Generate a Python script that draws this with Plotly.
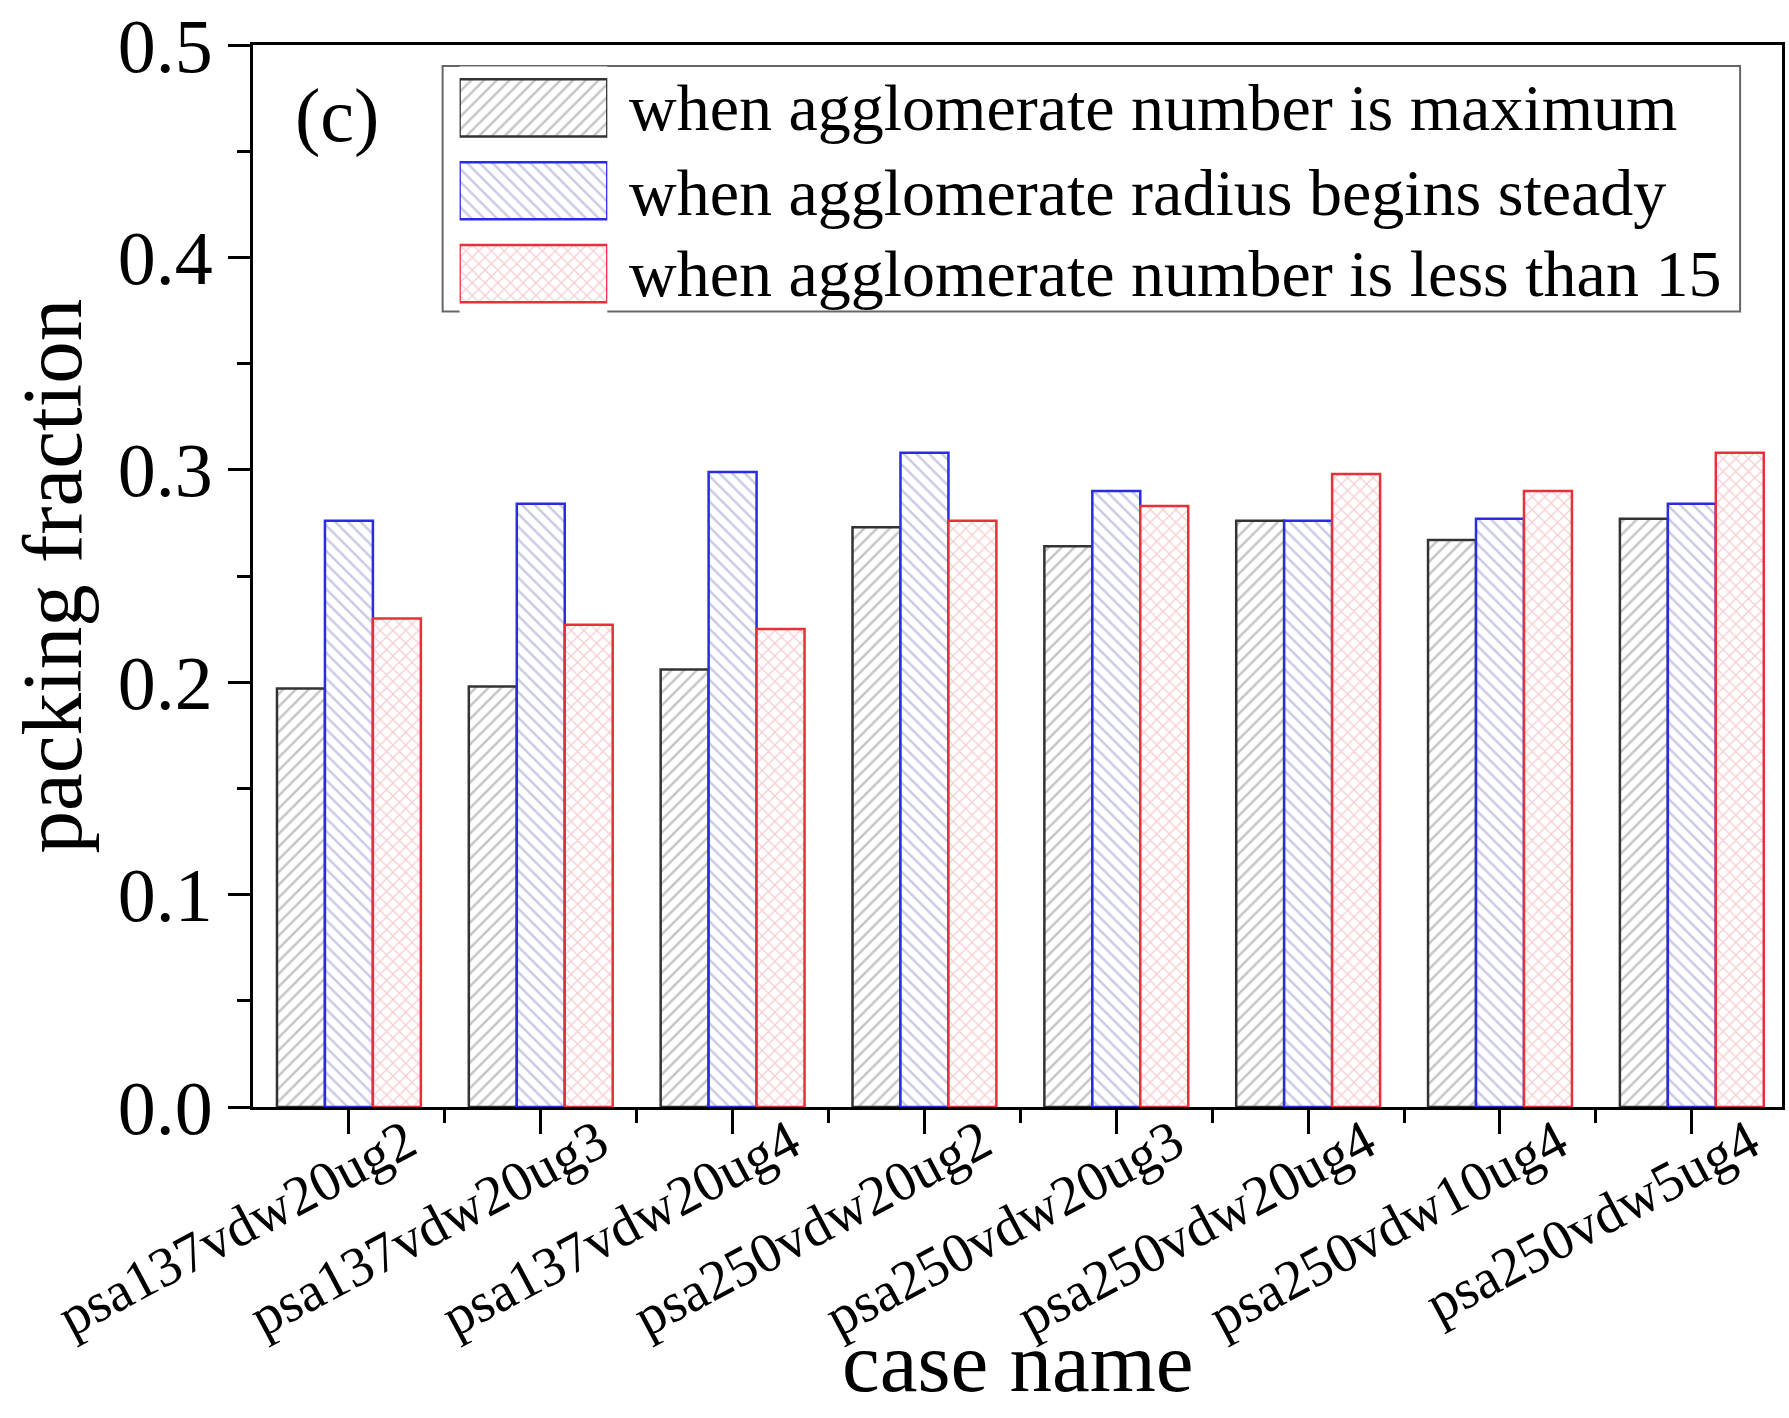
import plotly.graph_objects as go

# Case names along the x axis
categories = [
    "psa137vdw20ug2", "psa137vdw20ug3", "psa137vdw20ug4", "psa250vdw20ug2",
    "psa250vdw20ug3", "psa250vdw20ug4", "psa250vdw10ug4", "psa250vdw5ug4",
]

series_names = [
    "when agglomerate number is maximum",
    "when agglomerate radius begins steady",
    "when agglomerate number is less than 15",
]

# Packing fraction for each case
max_number = [0.197, 0.198, 0.206, 0.273, 0.264, 0.276, 0.267, 0.277]
radius_steady = [0.276, 0.284, 0.299, 0.308, 0.290, 0.276, 0.277, 0.284]
less_than_15 = [0.230, 0.227, 0.225, 0.276, 0.283, 0.298, 0.290, 0.308]

series_values = [max_number, radius_steady, less_than_15]

FONT = "Liberation Serif, Times New Roman, serif"
W, H = 1789, 1418
L, R, T, B = 253, 4, 43, 311

styles = [
    dict(line="#333333", fg="#8a8a8a", shape="/"),
    dict(line="#2b2be6", fg="#9494cc", shape="\\"),
    dict(line="#e8303a", fg="#ee9aa2", shape="x"),
]


def px_to_paper_x(px):
    return (px - L) / (W - L - R)


def px_to_paper_y(py):
    return (H - B - py) / (H - B - T)


def bar_marker(st):
    return dict(
        color="white",
        line=dict(color=st["line"], width=2.5),
        pattern=dict(shape=st["shape"], fgcolor=st["fg"], bgcolor="white",
                     size=9, solidity=0.27, fillmode="overlay"),
    )


fig = go.Figure()
xpos = list(range(len(categories)))

for name, vals, st in zip(series_names, series_values, styles):
    fig.add_trace(go.Bar(x=xpos, y=vals, name=name, showlegend=False,
                         marker=bar_marker(st)))

# Legend swatches drawn as bars on a small overlay axis
for i, (name, st) in enumerate(zip(series_names, styles)):
    fig.add_trace(go.Bar(
        x=[1], y=[i + 1], base=0, orientation="h", width=0.69, offset=-0.345,
        xaxis="x2", yaxis="y2", showlegend=False, hoverinfo="skip",
        marker=bar_marker(st),
    ))

row_centers = [106, 191, 272]
annotations = []
for name, yc in zip(series_names, row_centers):
    annotations.append(dict(
        text=name, x=px_to_paper_x(628), y=px_to_paper_y(yc),
        xref="paper", yref="paper", xanchor="left", yanchor="middle",
        showarrow=False, font=dict(family=FONT, size=66, color="black"),
    ))

annotations += [
    dict(text="(c)", x=px_to_paper_x(337), y=px_to_paper_y(114),
         xref="paper", yref="paper", xanchor="center", yanchor="middle",
         showarrow=False, font=dict(family=FONT, size=76, color="black")),
    dict(text="packing fraction", x=px_to_paper_x(52), y=0.5, textangle=-90,
         xref="paper", yref="paper", xanchor="center", yanchor="middle",
         showarrow=False, font=dict(family=FONT, size=85, color="black")),
    dict(text="case name", x=0.5, y=px_to_paper_y(1362),
         xref="paper", yref="paper", xanchor="center", yanchor="middle",
         showarrow=False, font=dict(family=FONT, size=85, color="black")),
]

fig.update_layout(
    width=W, height=H,
    margin=dict(l=L, r=R, t=T, b=B),
    paper_bgcolor="white", plot_bgcolor="white",
    barmode="group", bargap=0.25, bargroupgap=0,
    font=dict(family=FONT, color="black"),
    showlegend=False,
    annotations=annotations,
    shapes=[dict(
        type="rect", xref="paper", yref="paper",
        x0=px_to_paper_x(443), x1=px_to_paper_x(1743),
        y0=px_to_paper_y(310), y1=px_to_paper_y(64),
        line=dict(color="#666666", width=2), fillcolor="white", layer="below",
    )],
    xaxis=dict(
        range=[-0.5, 7.47], tickmode="array", tickvals=xpos, ticktext=categories,
        tickangle=-28, ticks="outside", ticklen=24, tickwidth=3, tickcolor="black",
        showline=True, linewidth=3, linecolor="black", mirror=True,
        showgrid=False, zeroline=False,
        tickfont=dict(family=FONT, size=56, color="black"),
        ticklabelshift=58, ticklabelstandoff=-46,
        minor=dict(tickmode="array", tickvals=[k + 0.5 for k in xpos[:-1]],
                   ticks="outside", ticklen=13, tickwidth=3, tickcolor="black"),
    ),
    yaxis=dict(
        range=[0, 0.5], tick0=0, dtick=0.1, tickformat=".1f",
        ticks="outside", ticklen=22, tickwidth=3, tickcolor="black",
        showline=True, linewidth=3, linecolor="black", mirror=True,
        showgrid=False, zeroline=False,
        tickfont=dict(family=FONT, size=76, color="black"),
        minor=dict(dtick=0.05, ticks="outside", ticklen=13, tickwidth=3,
                   tickcolor="black"),
    ),
    xaxis2=dict(domain=[px_to_paper_x(460), px_to_paper_x(608)], range=[0, 1],
                anchor="y2", visible=False, fixedrange=True),
    yaxis2=dict(domain=[px_to_paper_y(313.5), px_to_paper_y(64.5)], range=[3.5, 0.5],
                anchor="x2", visible=False, fixedrange=True),
)

fig.write_html("out.html")
